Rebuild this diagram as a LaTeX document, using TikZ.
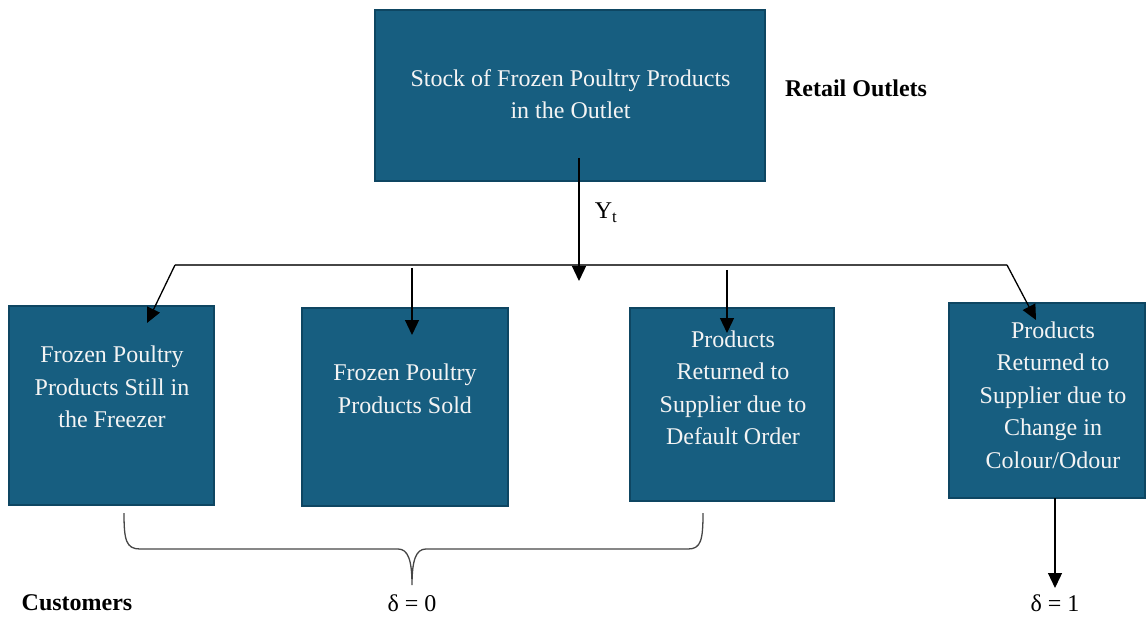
\documentclass[tikz,border=0pt]{standalone}
\usepackage{fontspec}
\setmainfont{Liberation Serif}
\usetikzlibrary{arrows.meta}
\definecolor{boxfill}{RGB}{23,94,128}
\definecolor{boxline}{RGB}{14,70,98}
\definecolor{boxtxt}{RGB}{244,244,244}
\definecolor{linegray}{RGB}{70,70,70}
\begin{document}
\begin{tikzpicture}[x=1pt,y=-1pt,
  font=\fontsize{24}{32.5}\selectfont,
  box/.style={draw=boxline, line width=2pt, fill=boxfill, inner sep=0pt},
  boxtext/.style={text=boxtxt, align=center, inner sep=0pt},
  plain/.style={inner sep=0pt},
  arr/.style={line width=1.3pt, -{Triangle[length=15pt,width=14pt]}},
  hline/.style={draw=linegray, line width=1.6pt},
  bracepath/.style={draw=linegray, line width=1.3pt}]
\useasboundingbox (0,0) rectangle (1147,617);

% boxes
\node[box, minimum width=390pt, minimum height=171pt] (top) at (570,95.5) {};
\node[box, minimum width=205pt, minimum height=199pt] (b1) at (111.5,405.5) {};
\node[box, minimum width=206pt, minimum height=198pt] (b2) at (405,407) {};
\node[box, minimum width=204pt, minimum height=193pt] (b3) at (732,404.5) {};
\node[box, minimum width=196pt, minimum height=195pt] (b4) at (1047,400.5) {};

% box texts
\node[boxtext] (ttop) at (570.5,94) {Stock of Frozen Poultry Products\\in the Outlet};
\node[boxtext] (t1) at (112,387) {Frozen Poultry\\Products Still in\\the Freezer};
\node[boxtext] (t2) at (405,389) {Frozen Poultry\\Products Sold};
\node[boxtext] (t3) at (733,388) {Products\\Returned to\\Supplier due to\\Default Order};
\node[boxtext] (t4) at (1053,395) {Products\\Returned to\\Supplier due to\\Change in\\Colour/Odour};

% side labels
\node[plain, font=\fontsize{24}{32.5}\selectfont\bfseries] (retail) at (856,88) {Retail Outlets};
\node[plain, font=\fontsize{24}{32.5}\selectfont\bfseries] (cust) at (77,603) {Customers};
\node[plain] (yt) at (606,213) {Y\textsubscript{t}};
\node[plain] (d0) at (412,603) {δ = 0};
\node[plain] (d1) at (1055,603) {δ = 1};

% distribution line and its branches
\coordinate (ys) at (579,158);
\coordinate (ye) at (579,281);
\coordinate (hl) at (175,265);
\coordinate (hr) at (1007,265);
\coordinate (a1) at (147,323);
\coordinate (a2s) at (412,268);
\coordinate (a2e) at (412,335);
\coordinate (a3s) at (727,270);
\coordinate (a3e) at (727,333);
\coordinate (a4) at (1036,320);
\coordinate (a5s) at (1055,498);
\coordinate (a5e) at (1055,588);

\draw[hline] (hl) -- (hr);
\draw[arr] (ys) -- (ye);
\draw[arr] (hl) -- (a1);
\draw[arr] (a2s) -- (a2e);
\draw[arr] (a3s) -- (a3e);
\draw[arr] (hr) -- (a4);
\draw[arr] (a5s) -- (a5e);

% brace under the first three outcomes
\coordinate (brl) at (124,513);
\coordinate (brr) at (703,513);
\coordinate (brm) at (412,585);
\draw[bracepath] (brl) .. controls (124,540) and (126,549) .. (140,549)
  -- (398,549) .. controls (408,549) and (412,560) .. (brm)
  .. controls (412,560) and (416,549) .. (426,549)
  -- (688,549) .. controls (701,549) and (703,540) .. (brr);
\end{tikzpicture}
\end{document}
